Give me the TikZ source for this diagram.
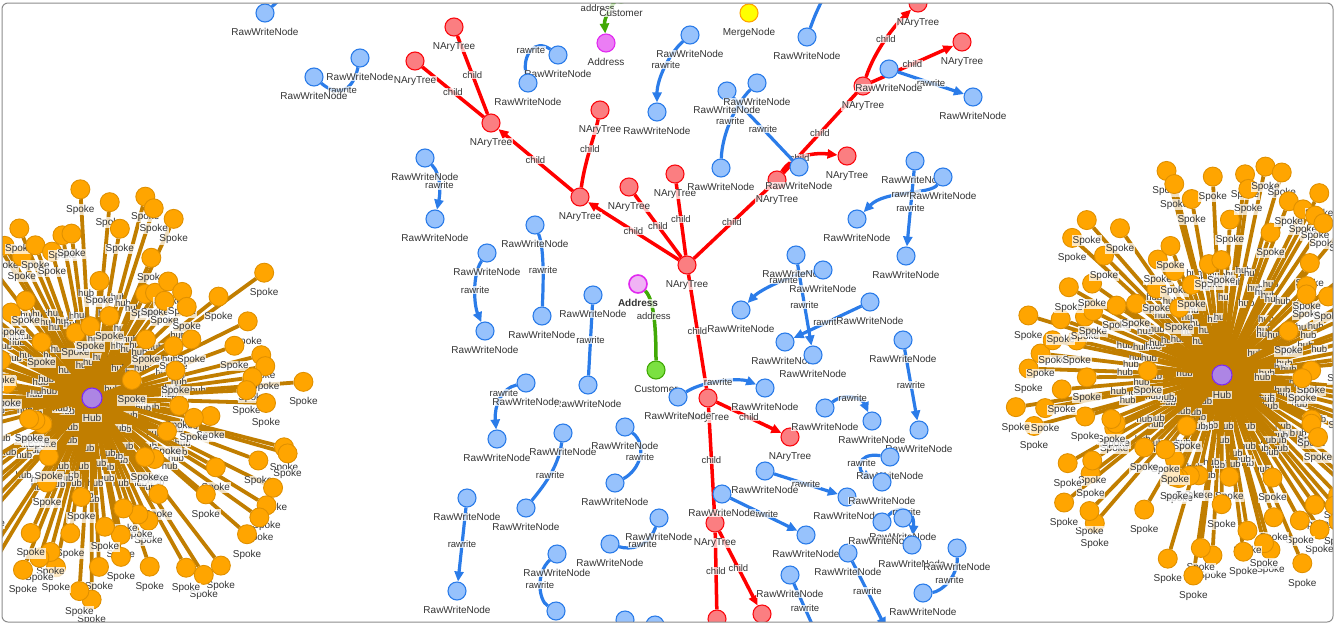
\documentclass[tikz,border=0pt]{standalone}
\usepackage{fontspec}
\setmainfont{Liberation Sans}
\usetikzlibrary{arrows.meta}
\definecolor{txt}{HTML}{343434}
\definecolor{bfill}{HTML}{97C2FC}
\definecolor{bdraw}{HTML}{2B7CE9}
\definecolor{rfill}{HTML}{FB7E81}
\definecolor{rdraw}{HTML}{FA0A10}
\definecolor{redline}{HTML}{FF0000}
\definecolor{gfill}{HTML}{7BE141}
\definecolor{gdraw}{HTML}{41A906}
\definecolor{mfill}{HTML}{EB7DF4}
\definecolor{mdraw}{HTML}{E129F0}
\definecolor{mlight}{HTML}{F0B3F5}
\definecolor{yfill}{HTML}{FFFF00}
\definecolor{ydraw}{HTML}{FFA500}
\definecolor{ofill}{HTML}{FFA500}
\definecolor{odraw}{HTML}{E09000}
\definecolor{hubline}{HTML}{C17E00}
\definecolor{pfill}{HTML}{AD85E4}
\definecolor{pdraw}{HTML}{7C29F0}
\definecolor{framec}{HTML}{8C8C8C}
\pgfdeclarelayer{bg}
\pgfsetlayers{bg,main}
\begin{document}
\begin{tikzpicture}[x=1pt,y=-1pt,
  label distance=5pt,
  lbl/.style={font=\fontsize{10}{12}\selectfont, text=txt, fill=white, fill opacity=0.75, text opacity=1, inner sep=0.6pt},
  elbl/.style={font=\fontsize{9.5}{11}\selectfont, text=txt, fill=white, fill opacity=0.75, text opacity=1, inner sep=0.5pt},
  dot/.style={circle, minimum size=18pt, inner sep=0pt, line width=1.1pt},
  rw/.style={dot, fill=bfill, draw=bdraw, label={[lbl]below:RawWriteNode}},
  nt/.style={dot, fill=rfill, draw=rdraw, label={[lbl]below:NAryTree}},
  cust/.style={dot, fill=gfill, draw=gdraw, label={[lbl]below:Customer}},
  addr/.style={dot, fill=mfill, draw=mdraw, label={[lbl]below:Address}},
  merge/.style={dot, fill=yfill, draw=ydraw, label={[lbl]below:MergeNode}},
  spoke/.style={dot, minimum size=19pt, fill=ofill, draw=odraw, line width=0.9pt, label={[lbl]below:Spoke}},
  hubn/.style={dot, minimum size=20pt, fill=pfill, draw=pdraw, label={[lbl]below:Hub}},
  bedg/.style={draw=bdraw, line width=3.2pt},
  redg/.style={draw=redline, line width=3.5pt},
  gedg/.style={draw=gdraw, line width=3.5pt},
  sedg/.style={draw=hubline, line width=3.8pt},
  arr/.style={-{Triangle[length=10pt,width=9pt]}}
]
\useasboundingbox (0,0) rectangle (1335,624);

% ---------------- hub and spoke clusters ----------------
\pgfmathsetseed{4711}
\node[hubn] (hubL) at (92,398) {};
\foreach \i in {1,...,114}{
  \pgfmathsetmacro\ang{\i*3.158+2.4*rnd}
  \pgfmathsetmacro\rad{38+175*pow(rnd,0.55)}
  \pgfmathsetmacro\px{92+\rad*cos(\ang)}
  \pgfmathsetmacro\py{398+\rad*sin(\ang)}
  \node[spoke] (L\i) at (\px,\py) {};
  \begin{pgfonlayer}{bg}
    \draw[sedg] (hubL) -- (L\i) node[elbl,midway]{hub};
  \end{pgfonlayer}
}
\node[hubn] (hubR) at (1222,375) {};
\foreach \i in {1,...,114}{
  \pgfmathsetmacro\ang{\i*3.158+2.4*rnd}
  \pgfmathsetmacro\rad{38+175*pow(rnd,0.55)}
  \pgfmathsetmacro\px{1222+\rad*cos(\ang)}
  \pgfmathsetmacro\py{375+\rad*sin(\ang)}
  \node[spoke] (R\i) at (\px,\py) {};
  \begin{pgfonlayer}{bg}
    \draw[sedg] (hubR) -- (R\i) node[elbl,midway]{hub};
  \end{pgfonlayer}
}

% ---------------- NAryTree nodes ----------------
\node[nt] (nA) at (454,27) {};
\node[nt] (nB) at (415,61) {};
\node[nt] (nC) at (491,123) {};
\node[nt] (nD) at (580,197) {};
\node[nt] (nE) at (600,110) {};
\node[nt] (nP1) at (629,187) {};
\node[nt] (nP2) at (675,174) {};
\node[nt] (nRoot) at (687,265) {};
\node[nt] (nI) at (777,180) {};
\node[nt] (nJ) at (847,156) {};
\node[nt] (nF) at (863,86) {};
\node[nt] (nG) at (962,42) {};
\node[nt] (nTop) at (918,3) {};
\node[nt] (nM) at (708,398) {};
\node[nt] (nN) at (790,437) {};
\node[nt] (nO) at (715,523) {};
\node[nt] (nQ) at (717,619) {};
\node[nt] (nR) at (762,614) {};

% ---------------- other nodes ----------------
\node[cust] (cust1) at (621,-6) {};
\node[addr] (addr1) at (606,43) {};
\node[merge] (merge1) at (749,13) {};
\node[dot, fill=mlight, draw=mdraw, line width=1.6pt, label={[lbl,font=\fontsize{10}{12}\selectfont\bfseries]below:Address}] (addr2) at (638,284) {};
\node[cust] (cust2) at (656,370) {};

% ---------------- RawWriteNodes ----------------
\node[rw] (b1) at (265,13) {};
\node[rw] (b2) at (314,77) {};
\node[rw] (b3) at (360,58) {};
\node[rw] (b4) at (558,55) {};
\node[rw] (b5) at (528,83) {};
\node[rw] (b6) at (690,35) {};
\node[rw] (b7) at (657,112) {};
\node[rw] (b8) at (807,37) {};
\node[rw] (b9) at (727,91) {};
\node[rw] (b10) at (757,83) {};
\node[rw] (b11) at (721,168) {};
\node[rw] (b12) at (799,167) {};
\node[rw] (b13) at (889,69) {};
\node[rw] (b14) at (973,97) {};
\node[rw] (b15) at (425,158) {};
\node[rw] (b16) at (435,219) {};
\node[rw] (b17) at (915,161) {};
\node[rw] (b18) at (857,219) {};
\node[rw] (b19) at (943,177) {};
\node[rw] (b20) at (906,256) {};
\node[rw] (b21) at (487,253) {};
\node[rw] (b22) at (485,331) {};
\node[rw] (b23) at (535,225) {};
\node[rw] (b24) at (542,316) {};
\node[rw] (b25) at (593,295) {};
\node[rw] (b26) at (588,385) {};
\node[rw] (b27) at (796,255) {};
\node[rw] (b28) at (823,270) {};
\node[rw] (b29) at (741,310) {};
\node[rw] (b32) at (870,302) {};
\node[rw] (b30) at (785,342) {};
\node[rw] (b31) at (813,355) {};
\node[rw] (b33) at (903,340) {};
\node[rw] (b34) at (919,430) {};
\node[rw] (b35) at (678,397) {};
\node[rw] (b36) at (765,388) {};
\node[rw] (b37) at (825,408) {};
\node[rw] (b38) at (872,421) {};
\node[rw] (b39) at (526,383) {};
\node[rw] (b40) at (497,439) {};
\node[rw] (b41) at (563,433) {};
\node[rw] (b42) at (526,508) {};
\node[rw] (b43) at (625,427) {};
\node[rw] (b44) at (615,483) {};
\node[rw] (b45) at (467,498) {};
\node[rw] (b46) at (457,591) {};
\node[rw] (b47) at (659,518) {};
\node[rw] (b48) at (610,544) {};
\node[rw] (b49) at (557,554) {};
\node[rw] (b50) at (556,611) {};
\node[rw] (b51) at (625,620) {};
\node[rw] (b52) at (655,625) {};
\node[rw] (b53) at (722,494) {};
\node[rw] (b54) at (806,535) {};
\node[rw] (b55) at (765,471) {};
\node[rw] (b56) at (847,497) {};
\node[rw] (b57) at (848,553) {};
\node[rw] (b58) at (890,636) {};
\node[rw] (b59) at (790,575) {};
\node[rw] (b60) at (820,642) {};
\node[rw] (b61) at (890,457) {};
\node[rw] (b62) at (882,482) {};
\node[rw] (b63b) at (903,518) {};
\node[rw] (b63) at (882,522) {};
\node[rw] (b64) at (912,545) {};
\node[rw] (b65) at (957,548) {};
\node[rw] (b66) at (923,593) {};
\coordinate (cb1) at (288,-8);
\coordinate (cb8) at (826,-8);

% ---------------- edges ----------------
\begin{pgfonlayer}{bg}
\draw[redg] (nC) -- (nA) node[elbl,midway]{child};
\draw[redg] (nC) -- (nB) node[elbl,midway]{child};
\draw[redg,arr] (nD) -- (nC) node[elbl,midway]{child};
\draw[redg,arr] (nRoot) -- (nD) node[elbl,midway]{child};
\draw[redg] (nD) .. controls (585,160) and (595,135) .. (nE) node[elbl,pos=0.5]{child};
\draw[redg] (nRoot) -- (nP1) node[elbl,midway]{child};
\draw[redg] (nRoot) -- (nP2) node[elbl,midway]{child};
\draw[redg] (nRoot) -- (nI) node[elbl,midway]{child};
\draw[redg] (nI) -- (nF) node[elbl,midway]{child};
\draw[redg,arr] (nI) .. controls (790,158) and (810,152) .. (nJ) node[elbl,pos=0.45]{child};
\draw[redg,arr] (nF) .. controls (875,50) and (895,25) .. (nTop) node[elbl,pos=0.5]{child};
\draw[redg,arr] (nF) -- (nG) node[elbl,midway]{child};
\draw[redg] (nRoot) -- (nM) node[elbl,midway]{child};
\draw[redg,arr] (nM) -- (nN) node[elbl,midway]{child};
\draw[redg] (nM) -- (nO) node[elbl,midway]{child};
\draw[redg] (nO) -- (nQ) node[elbl,midway]{child};
\draw[redg,arr] (nO) -- (nR) node[elbl,midway]{child};

\draw[gedg,arr] (cust1) .. controls (612,5) and (604,18) .. (addr1) node[elbl,pos=0.35,xshift=-13pt]{address};
\draw[gedg] (addr2) .. controls (655,300) and (656,335) .. (cust2) node[elbl,pos=0.45]{address};

\draw[bedg] (b1) -- (cb1);
\draw[bedg] (b3) .. controls (352,95) and (335,95) .. (b2) node[elbl,pos=0.5]{rawrite};
\draw[bedg] (b4) .. controls (535,38) and (522,55) .. (b5) node[elbl,pos=0.5]{rawrite};
\draw[bedg,arr] (b6) .. controls (668,55) and (657,80) .. (b7) node[elbl,pos=0.45]{rawrite};
\draw[bedg] (b8) .. controls (815,15) .. (cb8);
\draw[bedg] (b10) .. controls (735,105) and (722,135) .. (b11) node[elbl,pos=0.5]{rawrite};
\draw[bedg] (b9) -- (b12) node[elbl,midway]{rawrite};
\draw[bedg,arr] (b13) -- (b14) node[elbl,midway]{rawrite};
\draw[bedg,arr] (b15) .. controls (442,175) and (440,195) .. (b16) node[elbl,pos=0.5]{rawrite};
\draw[bedg,arr] (b19) .. controls (930,195) and (885,190) .. (b18) node[elbl,pos=0.5]{rawrite};
\draw[bedg,arr] (b17) -- (b20) node[elbl,midway]{rawrite};
\draw[bedg,arr] (b21) .. controls (472,275) and (474,305) .. (b22) node[elbl,pos=0.5]{rawrite};
\draw[bedg] (b23) .. controls (545,250) and (543,290) .. (b24) node[elbl,pos=0.5]{rawrite};
\draw[bedg] (b25) -- (b26) node[elbl,midway]{rawrite};
\draw[bedg,arr] (b27) -- (b31) node[elbl,midway]{rawrite};
\draw[bedg,arr] (b28) .. controls (790,275) and (760,290) .. (b29) node[elbl,pos=0.4]{rawrite};
\draw[bedg,arr] (b32) -- (b30) node[elbl,midway]{rawrite};
\draw[bedg,arr] (b33) -- (b34) node[elbl,midway]{rawrite};
\draw[bedg,arr] (b35) .. controls (705,380) and (740,378) .. (b36) node[elbl,pos=0.45]{rawrite};
\draw[bedg,arr] (b37) .. controls (845,392) and (862,398) .. (b38) node[elbl,pos=0.5]{rawrite};
\draw[bedg,arr] (b39) .. controls (502,388) and (494,405) .. (b40) node[elbl,pos=0.35]{rawrite};
\draw[bedg] (b41) .. controls (558,470) and (540,490) .. (b42) node[elbl,pos=0.45]{rawrite};
\draw[bedg] (b43) .. controls (648,445) and (640,470) .. (b44) node[elbl,pos=0.5]{rawrite};
\draw[bedg,arr] (b45) -- (b46) node[elbl,midway]{rawrite};
\draw[bedg] (b47) .. controls (648,548) and (630,550) .. (b48) node[elbl,pos=0.4]{rawrite};
\draw[bedg] (b49) .. controls (536,572) and (538,600) .. (b50) node[elbl,pos=0.5]{rawrite};
\draw[bedg,arr] (b53) -- (b54) node[elbl,midway]{rawrite};
\draw[bedg,arr] (b55) -- (b56) node[elbl,midway]{rawrite};
\draw[bedg,arr] (b57) -- (b58) node[elbl,pos=0.45]{rawrite};
\draw[bedg] (b59) -- (b60) node[elbl,pos=0.5]{rawrite};
\draw[bedg,arr] (b61) .. controls (855,452) and (858,472) .. (b62) node[elbl,pos=0.5]{rawrite};
\draw[bedg,arr] (b63) .. controls (898,505) and (915,508) .. (b64) node[elbl,pos=0.55]{rawrite};
\draw[bedg] (b65) .. controls (958,578) and (940,592) .. (b66) node[elbl,pos=0.45]{rawrite};
\end{pgfonlayer}

% ---------------- frame ----------------
\fill[white,even odd rule] (-5,-5) rectangle (1340,630) [rounded corners=6pt] (2,3) rectangle (1333,622);
\draw[framec, line width=1pt, rounded corners=6pt] (2,3) rectangle (1333,622);
\end{tikzpicture}
\end{document}
